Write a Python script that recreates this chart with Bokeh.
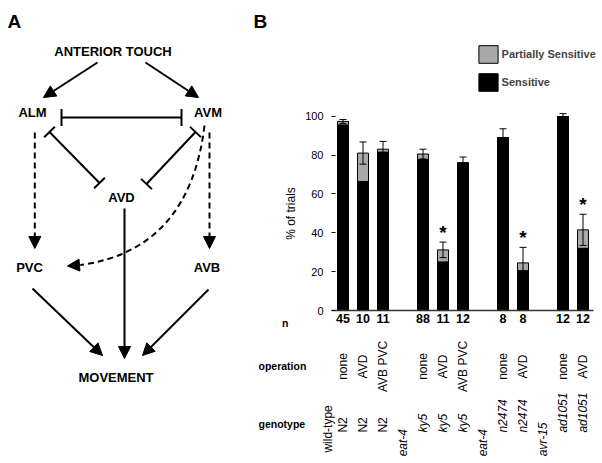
import math
from bokeh.plotting import figure
from bokeh.layouts import row
from bokeh.models import (ColumnDataSource, Range1d, Whisker, TeeHead, Arrow,
                          NormalHead, FixedTicker, LinearAxis)
from bokeh.core.properties import value
from bokeh.embed import file_html
from bokeh.resources import INLINE

FONT = "Liberation Sans"

# ---------------- Panel B data (one entry per column, left to right) ----------------
genotype = ["N2", "N2", "N2", "eat-4", "ky5", "ky5", "ky5", "eat-4",
            "n2474", "n2474", "avr-15", "ad1051", "ad1051"]
operation = ["none", "AVD", "AVB PVC", "", "none", "AVD", "AVB PVC", "",
             "none", "AVD", "", "none", "AVD"]
n_trials = ["45", "10", "11", "", "88", "11", "12", "", "8", "8", "", "12", "12"]
sensitive = [95.5, 66.4, 81.5, None, 77.7, 25.0, 76.0, None, 89.0, 20.5, None, 99.8, 32.0]
total = [97.3, 81.0, 83.0, None, 80.5, 31.2, 76.0, None, 89.0, 24.5, None, 99.8, 41.5]
sem = [1.0, 5.7, 4.0, None, 2.5, 4.0, 3.0, None, 4.5, 8.0, None, 1.5, 8.0]
significant = [False, False, False, False, False, True, False, False,
               False, True, False, False, True]
italic_genotypes = ["eat-4", "ky5", "n2474", "avr-15", "ad1051"]
y_ticks = [0, 20, 40, 60, 80, 100]

# ---------------- Panel A diagram ----------------
node_names = ["ANTERIOR TOUCH", "ALM", "AVM", "AVD", "PVC", "AVB", "MOVEMENT"]
node_x = [112.5, 32, 207.5, 121, 29, 206.5, 115.5]
node_y = [51, 112, 112, 196.5, 267, 267, 377]
excite_solid = [((97, 62), (43, 97)), ((145, 62), (198, 97)),
                ((32, 288), (102, 355)), ((124, 208), (124, 358)),
                ((208, 289), (142, 355))]
excite_dashed = [((34.3, 132), (34.3, 248)), ((209, 132), (209, 248))]
inhibit = [((61, 117), (181, 117), 8.5), ((49, 131.5), (99, 182.5), 7.5),
           ((195, 131.5), (146, 183.5), 7.5)]
curve_start, curve_ctrl, curve_end, curve_tip = (204, 125), (189, 249.5), (80, 264.5), (67, 265.5)

# ---------------- Panel A figure ----------------
pA = figure(width=245, height=463, x_range=Range1d(0, 245), y_range=Range1d(463, 0),
            output_backend="svg", toolbar_location=None,
            x_axis_location=None, y_axis_location=None,
            min_border_left=0, min_border_right=0, min_border_top=0, min_border_bottom=0)
pA.outline_line_color = None
pA.grid.visible = False

pA.text(x=[7], y=[21], text=["A"], text_font=value(FONT), text_font_style="bold",
        text_font_size="19px", text_align="left", text_baseline="alphabetic", text_color="black")
pA.text(x=node_x, y=node_y, text=node_names, text_font=value(FONT), text_font_style="bold",
        text_font_size="13px", text_align="center", text_baseline="middle", text_color="black")

for (s, e) in excite_solid:
    pA.add_layout(Arrow(end=NormalHead(size=12, fill_color="black", line_color="black"),
                        x_start=s[0], y_start=s[1], x_end=e[0], y_end=e[1],
                        line_width=2, line_color="black"))
for (s, e) in excite_dashed:
    pA.add_layout(Arrow(end=NormalHead(size=12, fill_color="black", line_color="black"),
                        x_start=s[0], y_start=s[1], x_end=e[0], y_end=e[1],
                        line_width=2, line_color="black", line_dash="6 4"))

pA.quadratic(x0=[curve_start[0]], y0=[curve_start[1]], x1=[curve_end[0]], y1=[curve_end[1]],
             cx=[curve_ctrl[0]], cy=[curve_ctrl[1]], line_width=2, line_color="black",
             line_dash="6 4")
pA.add_layout(Arrow(end=NormalHead(size=12, fill_color="black", line_color="black"),
                    x_start=curve_end[0], y_start=curve_end[1],
                    x_end=curve_tip[0], y_end=curve_tip[1], line_width=2, line_color="black"))

sx0, sy0, sx1, sy1 = [], [], [], []
for (a, b, h) in inhibit:
    sx0.append(a[0]); sy0.append(a[1]); sx1.append(b[0]); sy1.append(b[1])
    dx, dy = b[0] - a[0], b[1] - a[1]
    L = math.hypot(dx, dy)
    nx, ny = -dy / L * h, dx / L * h
    for pt in (a, b):
        sx0.append(pt[0] - nx); sy0.append(pt[1] - ny)
        sx1.append(pt[0] + nx); sy1.append(pt[1] + ny)
pA.segment(x0=sx0, y0=sy0, x1=sx1, y1=sy1, line_width=2, line_color="black")

# ---------------- Panel B figure ----------------
pB = figure(width=357, height=463, x_range=Range1d(-4.875, 12.975),
            y_range=Range1d(-78.7, 159.5), output_backend="svg", toolbar_location=None,
            x_axis_location=None, y_axis_location=None,
            min_border_left=0, min_border_right=0, min_border_top=0, min_border_bottom=0)
pB.outline_line_color = None
pB.grid.visible = False

cols = list(range(len(genotype)))
bar_idx = [i for i in cols if total[i] is not None]
bars = ColumnDataSource(dict(
    x=bar_idx,
    sens=[sensitive[i] for i in bar_idx],
    tot=[total[i] for i in bar_idx],
    upper=[total[i] + sem[i] for i in bar_idx],
    lower=[total[i] - sem[i] for i in bar_idx],
))

pB.vbar(x="x", top="tot", bottom=0, width=0.55, source=bars, fill_color="#a9a9a9",
        line_color="black", line_width=1, legend_label="Partially Sensitive")
pB.vbar(x="x", top="sens", bottom=0, width=0.55, source=bars, fill_color="black",
        line_color="black", line_width=1, legend_label="Sensitive")

wh = Whisker(source=bars, base="x", upper="upper", lower="lower", dimension="height",
             line_color="black", line_width=1,
             upper_head=TeeHead(size=7, line_color="black", line_width=1),
             lower_head=TeeHead(size=7, line_color="black", line_width=1), level="annotation")
pB.add_layout(wh)

star_idx = [i for i in cols if significant[i]]
pB.text(x=star_idx, y=[total[i] + sem[i] + 5.0 for i in star_idx], text=["*"] * len(star_idx),
        text_font=value(FONT), text_font_style="bold", text_font_size="19px",
        text_align="center", text_baseline="middle", text_color="black")

# y axis drawn at the left edge of the bar area
yax = LinearAxis(fixed_location=-0.375, ticker=FixedTicker(ticks=y_ticks), bounds=(0, 100))
yax.axis_line_color = None
yax.major_tick_in = 0
yax.major_tick_out = 4
yax.major_tick_line_color = "black"
yax.minor_tick_line_color = None
yax.major_label_standoff = 8
yax.major_label_text_font = FONT
yax.major_label_text_font_size = "11px"
yax.major_label_text_color = "black"
yax.axis_label = "% of trials"
yax.axis_label_text_font = FONT
yax.axis_label_text_font_style = "normal"
yax.axis_label_text_font_size = "12px"
yax.axis_label_text_color = "black"
yax.axis_label_standoff = 4
pB.add_layout(yax, "left")

# x baseline (axis line only)
xax = LinearAxis(fixed_location=0, ticker=FixedTicker(ticks=[]), bounds=(-0.575, 12.525))
xax.axis_line_color = "#333333"
xax.axis_line_width = 1.3
xax.major_tick_line_color = None
xax.minor_tick_line_color = None
xax.major_label_text_font_size = "0px"
pB.add_layout(xax, "below")

# n row
n_idx = [i for i in cols if n_trials[i]]
pB.text(x=n_idx, y=[-4.3] * len(n_idx), text=[n_trials[i] for i in n_idx],
        text_font=value(FONT), text_font_style="bold", text_font_size="12.5px",
        text_align="center", text_baseline="middle", text_color="black")
# operation row
pB.text(x=n_idx, y=[-28.8] * len(n_idx), text=[operation[i] for i in n_idx], angle=math.pi / 2,
        text_font=value(FONT), text_font_size="12px",
        text_align="center", text_baseline="middle", text_color="black")
# genotype row
for ital in (False, True):
    idx = [i for i in cols if (genotype[i] in italic_genotypes) == ital]
    pB.text(x=idx, y=[(-62.8 if n_trials[i] else -75.0) for i in idx],
            text=[genotype[i] for i in idx], angle=math.pi / 2,
            text_font=value(FONT), text_font_size="12px",
            text_font_style=("italic" if ital else "normal"),
            text_align="left", text_baseline="middle", text_color="black")
pB.text(x=[-0.775], y=[-73.1], text=["wild-type"], angle=math.pi / 2,
        text_font=value(FONT), text_font_size="12px", text_align="left",
        text_baseline="middle", text_color="black")

# row headings and panel letter
pB.text(x=[-3.05, -4.225, -4.225], y=[-6.2, -28.3, -58.2], text=["n", "operation", "genotype"],
        text_font=value(FONT), text_font_style="bold", text_font_size="10.5px",
        text_align="left", text_baseline="middle", text_color="black")
pB.text(x=[-4.475], y=[148.7], text=["B"], text_font=value(FONT), text_font_style="bold",
        text_font_size="19px", text_align="left", text_baseline="alphabetic", text_color="black")

# legend
lg = pB.legend[0]
lg.location = (230.6, 370.2)
lg.padding = 0
lg.margin = 0
lg.spacing = 6
lg.glyph_width = 24
lg.glyph_height = 22
lg.label_height = 22
lg.label_standoff = 2
lg.label_text_font = FONT
lg.label_text_font_style = "bold"
lg.label_text_font_size = "11px"
lg.border_line_color = None
lg.background_fill_alpha = 0

layout = row(pA, pB)
open("out.html", "w").write(file_html(layout, INLINE))
